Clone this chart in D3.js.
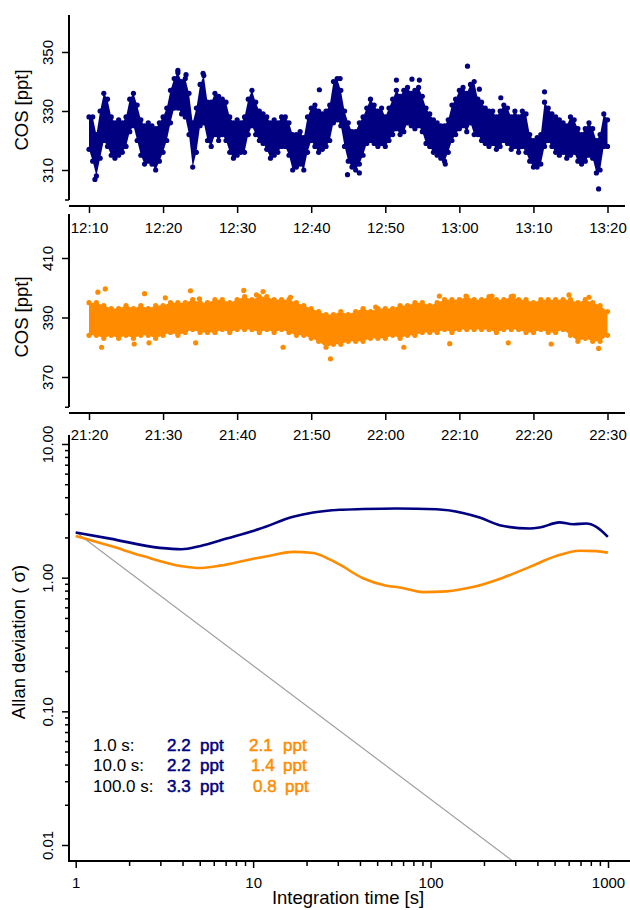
<!DOCTYPE html>
<html>
<head>
<meta charset="utf-8">
<script src="https://cdn.jsdelivr.net/npm/d3@7"></script>
<style>
  body { margin: 0; background: #fff; }
  text { font-family: "Liberation Sans", Arial, Helvetica, sans-serif; }
</style>
</head>
<body>
<svg id="chart" width="630" height="910"></svg>
<script>
// ---- data ----
// top panel: COS band (low / high edge) in 30 s bins from 12:10
const navyLo = [317,313,308,314,320,318,315,314,315,316, 318,323,325,320,315,312,313,312,310,313,
  316,320,326,331,331,329,328,322,311,316, 325,326,320,318,322,320,322,320,316,314,
  315,316,316,322,325,322,320,319,317,314, 315,316,318,318,315,310,311,312,310,316,
  320,318,316,317,318,320,326,327,325,318, 313,311,310,312,315,319,320,319,318,319,
  318,320,322,324,322,323,326,325,324,325, 323,319,318,316,315,314,313,316,320,322,
  324,325,323,326,322,322,320,319,318,319, 317,318,320,319,317,318,316,318,316,313,
  311,311,312,318,320,318,316,315,316,314, 315,316,313,312,313,315,314,309,310,318, 318];
const navyHi = [328,328,322,330,336,334,328,326,327,326, 328,334,336,332,327,325,326,325,324,326,
  328,331,337,341,343,340,341,336,326,331, 339,342,333,333,336,335,334,333,328,326,
  327,326,328,334,337,333,330,329,328,326, 327,326,328,328,326,322,322,323,321,328,
  331,332,330,329,330,332,340,341,337,330, 326,323,323,326,328,331,334,332,330,331,
  328,331,334,337,335,337,338,336,337,338, 335,331,329,327,326,325,325,327,332,334,
  337,338,336,339,340,334,333,331,330,330, 328,330,332,331,328,330,328,330,329,322,
  320,321,322,333,331,329,328,327,326,325, 328,327,324,322,324,326,324,320,322,329, 327];
// isolated points [minutes after start, ppt]
const navyOut = [[0.8,306.8],[12.0,343.8],[13.1,342.3],[15.4,342.8],[31.1,337.2],[33.9,341],
  [34.9,308.4],[36.5,309],[41.5,340.5],[43.6,340.8],[44.6,340.5],[48.1,312],[51.1,345.2],
  [52.7,337.4],[55.6,334.5],[61.5,336.5],[68.8,303.6]];

// middle panel: COS band in 1 min bins from 21:20
const orangeLo = [384,384,383,384,383,384,383,384,384,383, 384,385,384,385,386,385,385,385,386,385,
  386,386,386,385,386,385,386,385,384,384, 383,382,380,381,381,382,382,382,383,383,
  383,384,383,384,384,385,385,385,386,385, 386,386,386,386,386,385,386,386,386,385,
  385,386,385,385,386,384,382,383,382,382, 384];
const orangeHi = [395,395,394,393,393,394,393,394,393,394, 394,395,395,395,396,395,395,396,396,395,
  396,397,396,397,397,396,396,396,395,394, 393,392,391,391,392,391,392,393,392,393,
  393,393,394,394,395,395,394,395,396,396, 396,397,396,396,397,396,396,397,396,396,
  395,396,396,396,396,396,395,396,395,394, 392];
const orangeOut = [[1.2,398.5],[2.2,399.6],[1.7,380],[6.1,381.1],[7.5,398],[8.1,381.5],[10.3,396.6],
  [13.7,399],[14.9,396.3],[14.4,381.5],[20.9,399.1],[22.6,397.6],[23.5,398.7],[26.2,380],
  [27.2,396.8],[32.6,376.1],[38.7,393.5],[42.5,380],[48.7,381.2],[47.3,397.2],[50.9,397.2],
  [54.4,397.2],[56.6,381.5],[57.3,397.2],[62.4,381.1],[64.8,397.6],[68.8,379.6],[67.5,396.8]];

// bottom panel: Allan deviation
const navyTau   = [1,1.56,2.98,3.95,5,7.08,10.9,16.8,21.8,30.8,41.6,64,108,152,189,245,361,411,533,634,754,859,998];
const navySigma = [2.18,1.96,1.67,1.63,1.72,1.96,2.32,2.85,3.07,3.22,3.26,3.29,3.25,3.05,2.82,2.47,2.33,2.37,2.59,2.51,2.54,2.40,2.02];
const orangeTau   = [1,1.56,2.4,3.95,5,6.5,9.18,13,16.8,21.8,27,30.8,41.6,56.4,67,90.6,123,173,256,361,511,692,859,998];
const orangeSigma = [2.05,1.73,1.45,1.22,1.18,1.23,1.35,1.48,1.56,1.53,1.37,1.25,0.99,0.87,0.845,0.78,0.79,0.85,1.0,1.2,1.45,1.59,1.58,1.54];
const refLine = [[1,2.2],[1000,0.0022]];

const legendTimes  = ["1.0 s:", "10.0 s:", "100.0 s:"];
const navyLegend   = ["2.2", "2.2", "3.3"];
const orangeLegend = ["2.1", "1.4", "0.8"];

const topYTicks = [310, 330, 350];
const midYTicks = [370, 390, 410];
const allanYTicks = [0.01, 0.1, 1, 10];
const allanXTicks = [1, 10, 100, 1000];

const NAVY = "#000080", ORANGE = "#FF8C00";
const svg = d3.select("#chart");

function styleAxis(g) {
  g.select(".domain").remove();
  g.selectAll(".tick line").attr("stroke", "#000").attr("stroke-width", 1.5);
  g.selectAll(".tick text").attr("fill", "#000").attr("font-size", 15);
}

function yAxis(y, ticks, minor, fmt) {
  const g = svg.append("g").attr("transform", "translate(69,0)")
    .call(d3.axisLeft(y).tickValues(ticks).tickSize(7).tickFormat(fmt));
  styleAxis(g);
  g.selectAll(".tick text")
    .attr("x", null).attr("dy", null)
    .attr("text-anchor", "middle")
    .attr("transform", "translate(-16,0) rotate(-90)");
  const m = svg.append("g").attr("transform", "translate(69,0)")
    .call(d3.axisLeft(y).tickValues(minor).tickSize(4).tickFormat(""));
  styleAxis(m);
}

function scatterPanel(p) {
  const t0 = p.t0;
  const tAt = m => new Date(+t0 + m * 60000);
  const x = d3.scaleTime().domain([t0, tAt(70)]).range([89, 607.5]);
  const y = d3.scaleLinear().domain(p.yDom).range(p.yRange);

  const bins = p.lo.map((lo, i) => ({t: tAt(i * p.step), lo: lo, hi: p.hi[i]}));

  svg.append("path").datum(bins)
    .attr("fill", p.color)
    .attr("d", d3.area().x(d => x(d.t)).y0(d => y(d.lo)).y1(d => y(d.hi)));

  const pts = bins.flatMap(d => [[d.t, d.lo], [d.t, d.hi]])
    .concat(p.out.map(d => [tAt(d[0]), d[1]]));
  svg.append("g").selectAll("circle")
    .data(pts)
    .join("circle")
    .attr("cx", d => x(d[0]))
    .attr("cy", d => y(d[1]))
    .attr("r", 2.6)
    .attr("fill", p.color);

  // axes
  svg.append("line").attr("x1", 69).attr("x2", 69).attr("y1", p.yTop).attr("y2", p.yBot)
    .attr("stroke", "#000").attr("stroke-width", 2);
  svg.append("line").attr("x1", 69).attr("x2", 625).attr("y1", p.axisY).attr("y2", p.axisY)
    .attr("stroke", "#000").attr("stroke-width", 2);

  yAxis(y, p.yTicks, p.yMinor, d3.format("d"));

  const gx = svg.append("g").attr("transform", `translate(0,${p.axisY})`)
    .call(d3.axisBottom(x).tickValues(d3.range(0, 71, 10).map(tAt))
      .tickSize(7).tickPadding(9).tickFormat(d3.timeFormat("%H:%M")));
  styleAxis(gx);

  svg.append("text")
    .attr("transform", `translate(28,${p.titleY}) rotate(-90)`)
    .attr("text-anchor", "middle").attr("font-size", 18.5)
    .text("COS [ppt]");
}

scatterPanel({
  t0: new Date(2020, 0, 1, 12, 10), step: 0.5, lo: navyLo, hi: navyHi, out: navyOut, color: NAVY,
  yDom: [310, 350], yRange: [170, 52], yTop: 15, yBot: 200, axisY: 206,
  yTicks: topYTicks, yMinor: [300], titleY: 110
});
scatterPanel({
  t0: new Date(2020, 0, 1, 21, 20), step: 1, lo: orangeLo, hi: orangeHi, out: orangeOut, color: ORANGE,
  yDom: [370, 410], yRange: [377, 258], yTop: 214, yBot: 407, axisY: 413,
  yTicks: midYTicks, yMinor: [360], titleY: 317
});

// ---- Allan deviation panel ----
const ax = d3.scaleLog().domain([1, 1000]).range([75.7, 608]);
const ay = d3.scaleLog().domain([0.01, 10]).range([845, 444]);

svg.append("clipPath").attr("id", "clipA")
  .append("rect").attr("x", 69).attr("y", 435).attr("width", 561).attr("height", 426);
const plot = svg.append("g").attr("clip-path", "url(#clipA)");

plot.append("path").datum(refLine)
  .attr("fill", "none").attr("stroke", "#a0a0a0").attr("stroke-width", 1.2)
  .attr("d", d3.line().x(d => ax(d[0])).y(d => ay(d[1])));

const allanLine = d3.line().x(d => ax(d[0])).y(d => ay(d[1])).curve(d3.curveMonotoneX);
plot.append("path").datum(orangeTau.map((t, i) => [t, orangeSigma[i]]))
  .attr("fill", "none").attr("stroke", ORANGE).attr("stroke-width", 2.6).attr("d", allanLine);
plot.append("path").datum(navyTau.map((t, i) => [t, navySigma[i]]))
  .attr("fill", "none").attr("stroke", NAVY).attr("stroke-width", 2.6).attr("d", allanLine);

svg.append("line").attr("x1", 69).attr("x2", 69).attr("y1", 435).attr("y2", 862)
  .attr("stroke", "#000").attr("stroke-width", 2);
svg.append("line").attr("x1", 68).attr("x2", 630).attr("y1", 861).attr("y2", 861)
  .attr("stroke", "#000").attr("stroke-width", 2);

const yMinorA = [], xMinorA = [];
[0.01, 0.1, 1].forEach(dec => d3.range(2, 10).forEach(k => yMinorA.push(dec * k)));
[1, 10, 100].forEach(dec => d3.range(2, 10).forEach(k => xMinorA.push(dec * k)));

yAxis(ay, allanYTicks, yMinorA, d3.format(".2f"));

const gax = svg.append("g").attr("transform", "translate(0,861)")
  .call(d3.axisBottom(ax).tickValues(allanXTicks).tickSize(7).tickPadding(9).tickFormat(d3.format("d")));
styleAxis(gax);
const gaxm = svg.append("g").attr("transform", "translate(0,861)")
  .call(d3.axisBottom(ax).tickValues(xMinorA).tickSize(5).tickFormat(""));
styleAxis(gaxm);

svg.append("text")
  .attr("transform", "translate(25,642) rotate(-90)")
  .attr("text-anchor", "middle").attr("font-size", 18.5)
  .text("Allan deviation ( σ)");
svg.append("text")
  .attr("x", 348).attr("y", 904)
  .attr("text-anchor", "middle").attr("font-size", 18.5)
  .text("Integration time [s]");

// legend
const rowY = [751, 771, 792];
const legend = svg.append("g").attr("font-size", 17);
legend.selectAll(".lt").data(legendTimes).join("text")
  .attr("x", 93).attr("y", (d, i) => rowY[i]).attr("fill", "#000").text(d => d);
const colored = legend.append("g").attr("stroke-width", 0.5);
colored.selectAll(".ln").data(navyLegend).join("text")
  .attr("x", 167).attr("y", (d, i) => rowY[i]).attr("fill", NAVY).attr("stroke", NAVY).text(d => d);
colored.selectAll(".lnp").data(navyLegend).join("text")
  .attr("x", 200).attr("y", (d, i) => rowY[i]).attr("fill", NAVY).attr("stroke", NAVY).text("ppt");
colored.selectAll(".lo").data(orangeLegend).join("text")
  .attr("x", (d, i) => [249, 251, 253][i]).attr("y", (d, i) => rowY[i])
  .attr("fill", ORANGE).attr("stroke", ORANGE).text(d => d);
colored.selectAll(".lop").data(orangeLegend).join("text")
  .attr("x", (d, i) => [283, 283, 285][i]).attr("y", (d, i) => rowY[i])
  .attr("fill", ORANGE).attr("stroke", ORANGE).text("ppt");
</script>
</body>
</html>
